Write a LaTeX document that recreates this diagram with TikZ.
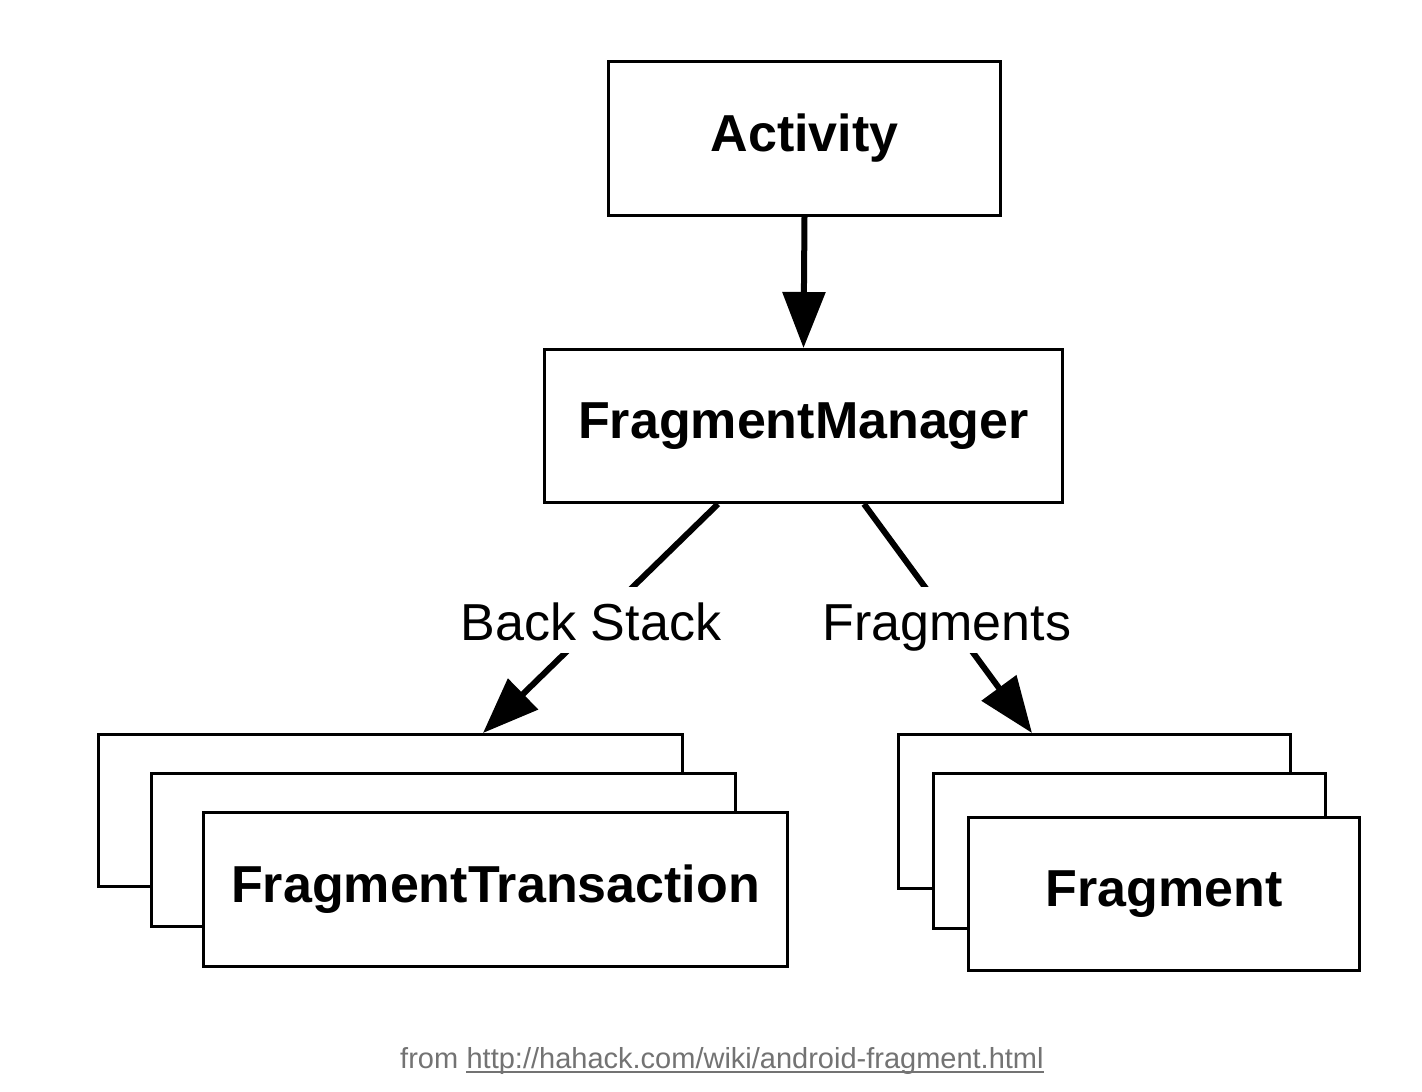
\documentclass[tikz,border=0pt]{standalone}
\usepackage{fontspec}
\setmainfont{Liberation Sans}
\usetikzlibrary{arrows.meta}
\begin{document}
\begin{tikzpicture}[x=1pt,y=-1pt,
  box/.style={draw=black, line width=3pt, fill=white, inner sep=0pt,
    font=\fontsize{52}{62}\selectfont\bfseries},
  lbl/.style={fill=white, inner xsep=4pt, inner ysep=13pt, text height=40pt, text depth=0pt,
    font=\fontsize{52}{62}\selectfont},
  conn/.style={draw=black, line width=6pt, -{Triangle[length=56pt,width=42pt]}},
  capt/.style={inner sep=0pt, text=black!55, font=\fontsize{29}{34}\selectfont}
]
\useasboundingbox (0,0) rectangle (1422,1092);
\fill[white] (0,0) rectangle (1422,1092);

% main boxes
\node[box, minimum width=392pt, minimum height=154pt] (act) at (804.5,138) {Activity};
\node[box, minimum width=518pt, minimum height=153pt] (fm) at (803.5,426) {FragmentManager};

% left stack
\node[box, minimum width=584pt, minimum height=152pt] (ft3) at (390.5,810.5) {};
\node[box, minimum width=584pt, minimum height=153pt] (ft2) at (443.5,850) {};
\node[box, minimum width=584pt, minimum height=154pt] (ft) at (495.5,889.5) {FragmentTransaction};

% right stack
\node[box, minimum width=392pt, minimum height=154pt] (fr3) at (1094.5,811.5) {};
\node[box, minimum width=392pt, minimum height=155pt] (fr2) at (1129.5,851) {};
\node[box, minimum width=391pt, minimum height=153pt] (fr) at (1164,894) {Fragment};

% connectors
\draw[conn] (act.south) -- (fm.north);
\coordinate (bsA) at (718,0 |- fm.south);
\coordinate (bsB) at (483,0 |- ft3.north);
\coordinate (frA) at (864,0 |- fm.south);
\coordinate (frB) at (1032,0 |- fr3.north);
\draw[conn] (bsA) -- (bsB);
\draw[conn] (frA) -- (frB);
\node[lbl, anchor=base] (bslbl) at (591,640) {Back Stack};
\node[lbl, anchor=base] (frlbl) at (947,640) {Fragments};

% caption
\node[capt, anchor=base west] (from) at (400,1068) {from};
\node[capt, anchor=base west] (url) at ([xshift=8pt]from.base east) {http://hahack.com/wiki/android-fragment.html};
\draw[black!55, line width=1.6pt] ([yshift=-4pt]url.base west) -- ([yshift=-4pt]url.base east);
\end{tikzpicture}
\end{document}
